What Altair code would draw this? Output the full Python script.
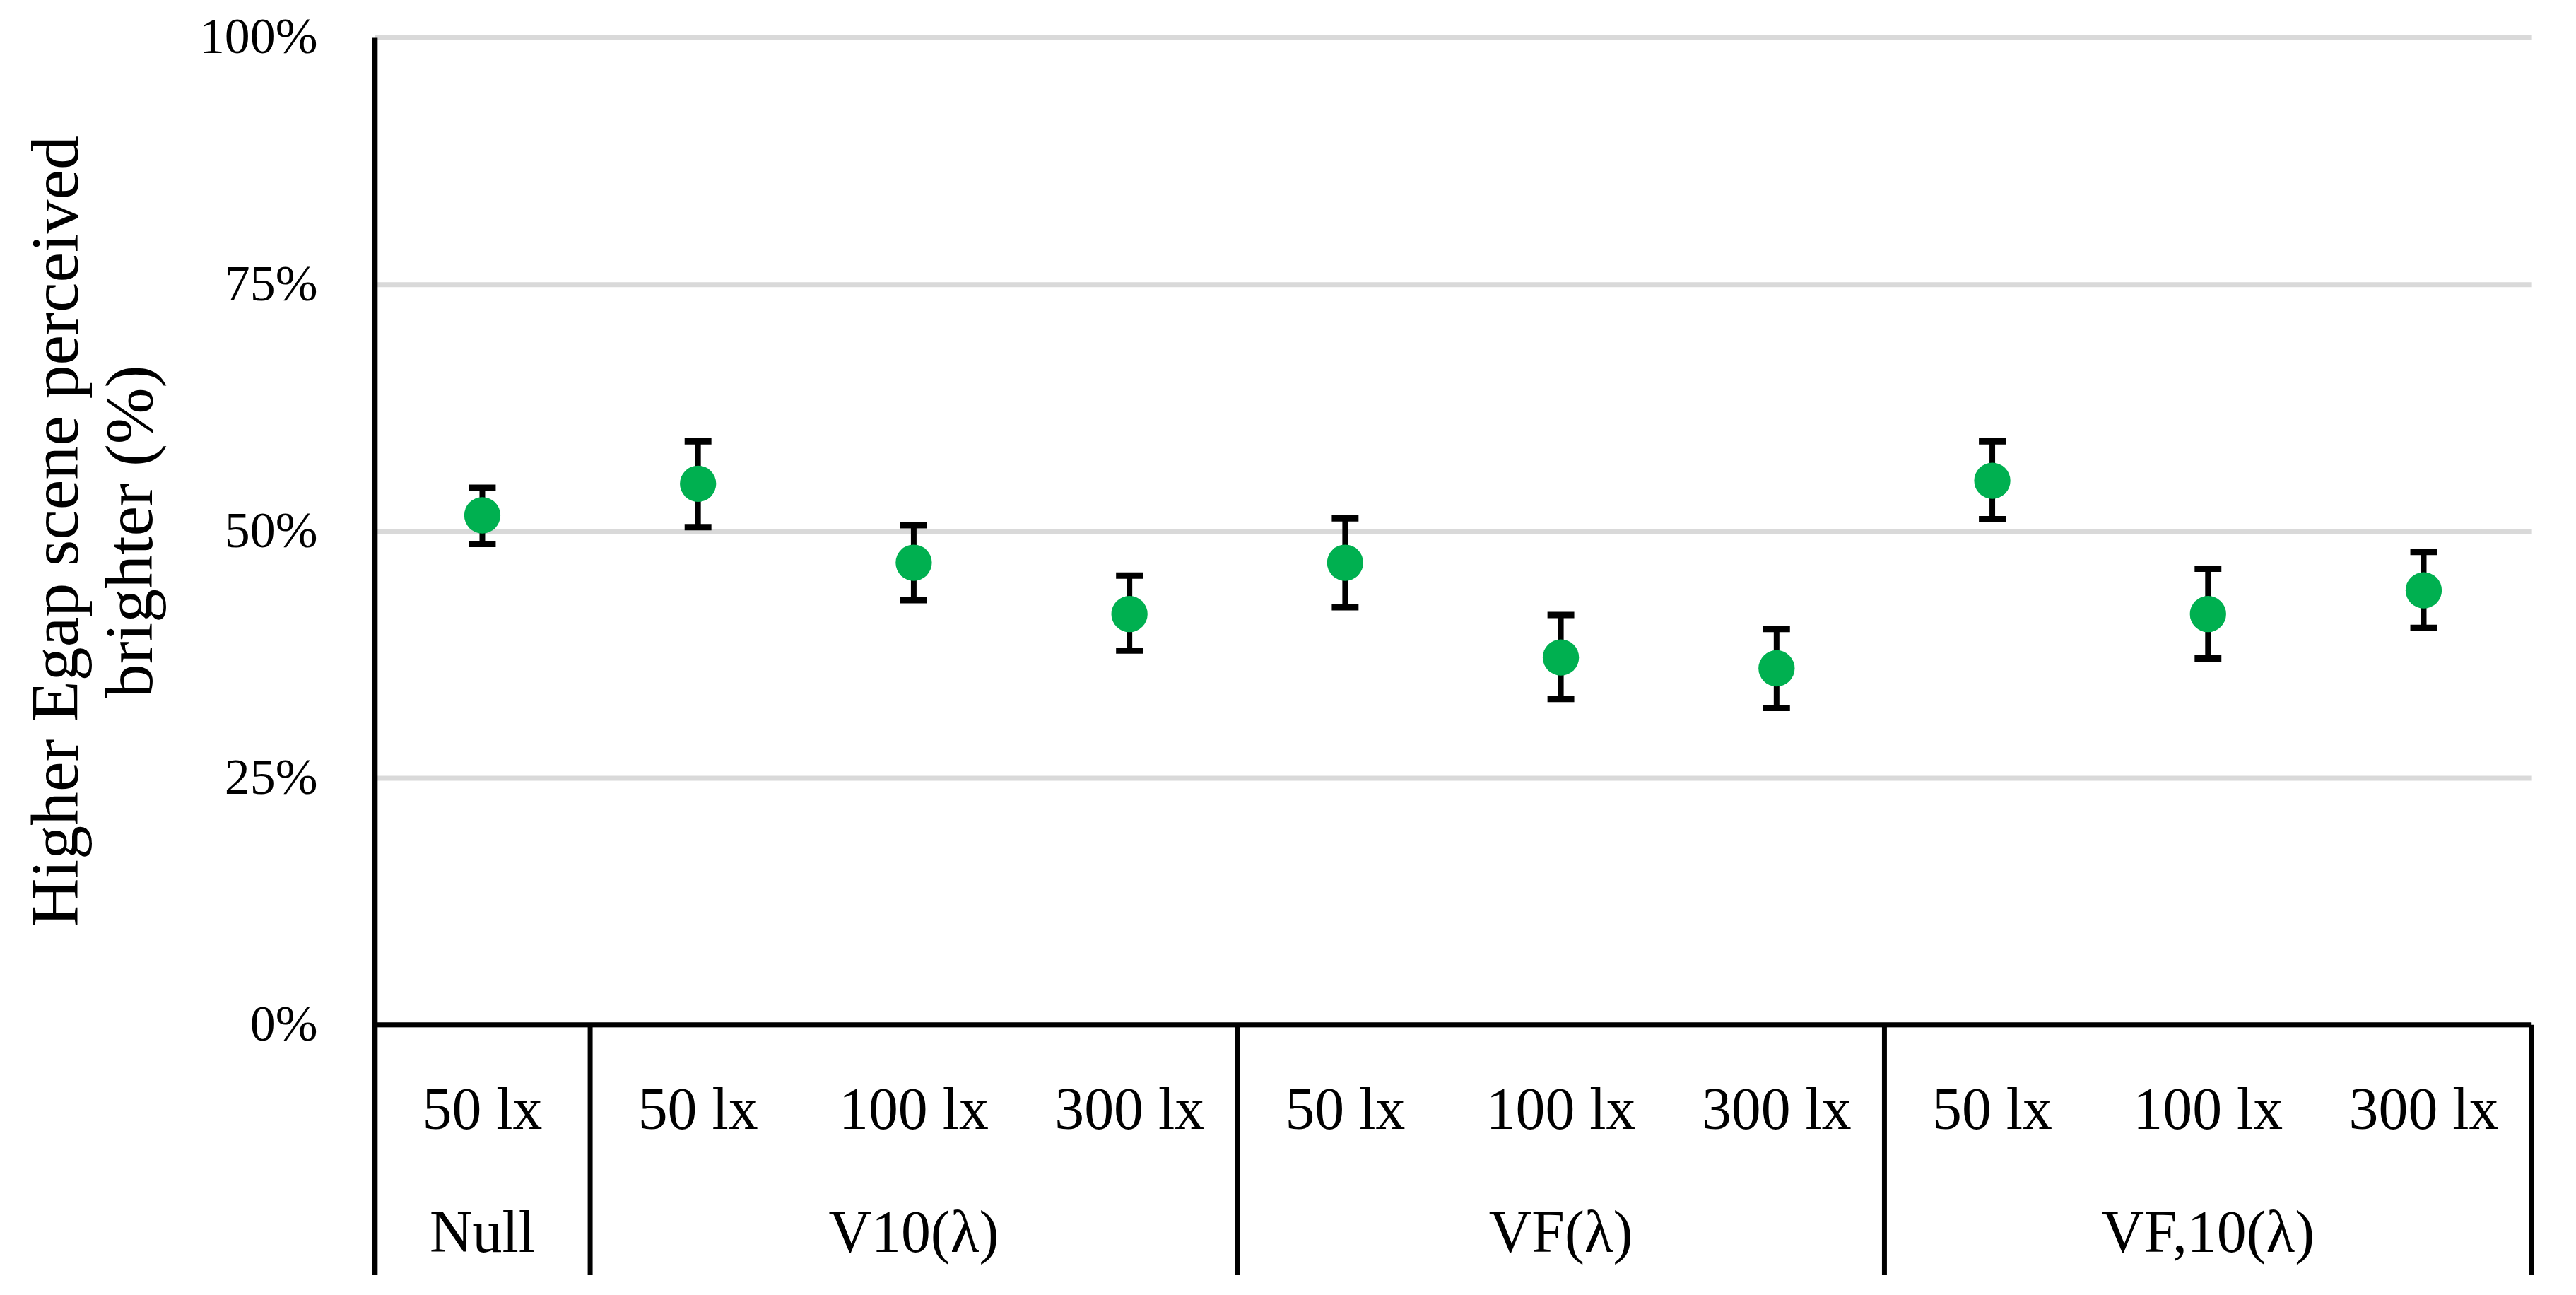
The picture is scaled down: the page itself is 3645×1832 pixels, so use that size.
import altair as alt
import pandas as pd

# ---- data ----
lux_labels = ["50 lx", "50 lx", "100 lx", "300 lx", "50 lx", "100 lx", "300 lx", "50 lx", "100 lx", "300 lx"]
group_names = ["Null", "V10(λ)", "VF(λ)", "VF,10(λ)"]
group_sizes = [1, 3, 3, 3]
means = [51.6, 54.8, 46.8, 41.6, 46.8, 37.2, 36.1, 55.1, 41.6, 44.0]
upper = [54.4, 59.1, 50.6, 45.5, 51.3, 41.5, 40.1, 59.1, 46.2, 47.9]
lower = [48.7, 50.4, 43.0, 37.9, 42.3, 33.0, 32.1, 51.2, 37.1, 40.2]
y_ticks = [0, 25, 50, 75, 100]

# layout constants (in y-scale units) for the category table below the axis
Y_MIN = -25.29
LUX_Y = -10.57
GROUP_Y = -23.0
FONT = "Liberation Serif"

n = len(means)
df = pd.DataFrame({
    "pos": [i + 0.5 for i in range(n)],
    "lux": lux_labels,
    "mean": means,
    "hi": upper,
    "lo": lower,
    "luxy": [LUX_Y] * n,
})

bounds, centres = [], []
start = 0
for s in group_sizes:
    centres.append(start + s / 2)
    start += s
    bounds.append(start)
gdf = pd.DataFrame({"group": group_names, "centre": centres, "gy": [GROUP_Y] * len(group_names)})
bdf = pd.DataFrame({"b": bounds, "top": [0] * len(bounds), "bot": [Y_MIN] * len(bounds)})
zdf = pd.DataFrame({"x0": [0], "x1": [n], "y0": [0]})

xs = alt.Scale(domain=[0, n], nice=False, zero=False)
ys = alt.Scale(domain=[Y_MIN, 100], nice=False, zero=False)

yaxis = alt.Axis(
    values=y_ticks,
    labelExpr="datum.value + '%'",
    labelFont=FONT,
    labelFontSize=72,
    labelColor="black",
    labelPadding=81,
    ticks=False,
    domain=True,
    domainColor="black",
    domainWidth=8,
    grid=True,
    gridColor="#D9D9D9",
    gridWidth=7,
    title=["Higher Egap scene perceived", "brighter (%)"],
    titleFont=FONT,
    titleFontSize=96,
    titleFontWeight="normal",
    titleColor="black",
    titleLineHeight=105,
    titleAngle=270,
    titleAlign="center",
    titleBaseline="middle",
    titleX=-450,
    titleY=700,
)


def X(field):
    return alt.X(field, scale=xs, axis=None)


def Y(field):
    return alt.Y(field, scale=ys, axis=yaxis)


base = alt.Chart(df)

stems = base.mark_rule(color="black", strokeWidth=8).encode(
    x=X("pos:Q"), y=Y("lo:Q"), y2=alt.Y2("hi:Q"),
)
caps_hi = base.mark_tick(color="black", orient="horizontal", size=38, thickness=9, opacity=1).encode(
    x=X("pos:Q"), y=Y("hi:Q"),
)
caps_lo = base.mark_tick(color="black", orient="horizontal", size=38, thickness=9, opacity=1).encode(
    x=X("pos:Q"), y=Y("lo:Q"),
)
points = base.mark_circle(color="#00B050", size=2642, opacity=1).encode(
    x=X("pos:Q"), y=Y("mean:Q"),
)
zero_line = alt.Chart(zdf).mark_rule(color="black", strokeWidth=7).encode(
    x=X("x0:Q"), x2=alt.X2("x1:Q"), y=Y("y0:Q"),
)
separators = alt.Chart(bdf).mark_rule(color="black", strokeWidth=7).encode(
    x=X("b:Q"), y=Y("top:Q"), y2=alt.Y2("bot:Q"),
)
lux_text = base.mark_text(font=FONT, fontSize=84, color="black", align="center", baseline="alphabetic").encode(
    x=X("pos:Q"), y=Y("luxy:Q"), text=alt.Text("lux:N"),
)
group_text = alt.Chart(gdf).mark_text(font=FONT, fontSize=84, color="black", align="center", baseline="alphabetic").encode(
    x=X("centre:Q"), y=Y("gy:Q"), text=alt.Text("group:N"),
)

chart = alt.layer(
    stems, caps_hi, caps_lo, points, zero_line, separators, lux_text, group_text
).properties(
    width=3059,
    height=1754,
    autosize=alt.AutoSizeParams(type="none"),
    padding={"left": 523, "top": 43, "right": 55, "bottom": 27},
    background="white",
).configure_view(stroke=None)

chart.save("out.html", embed_options={"renderer": "svg", "actions": False})
